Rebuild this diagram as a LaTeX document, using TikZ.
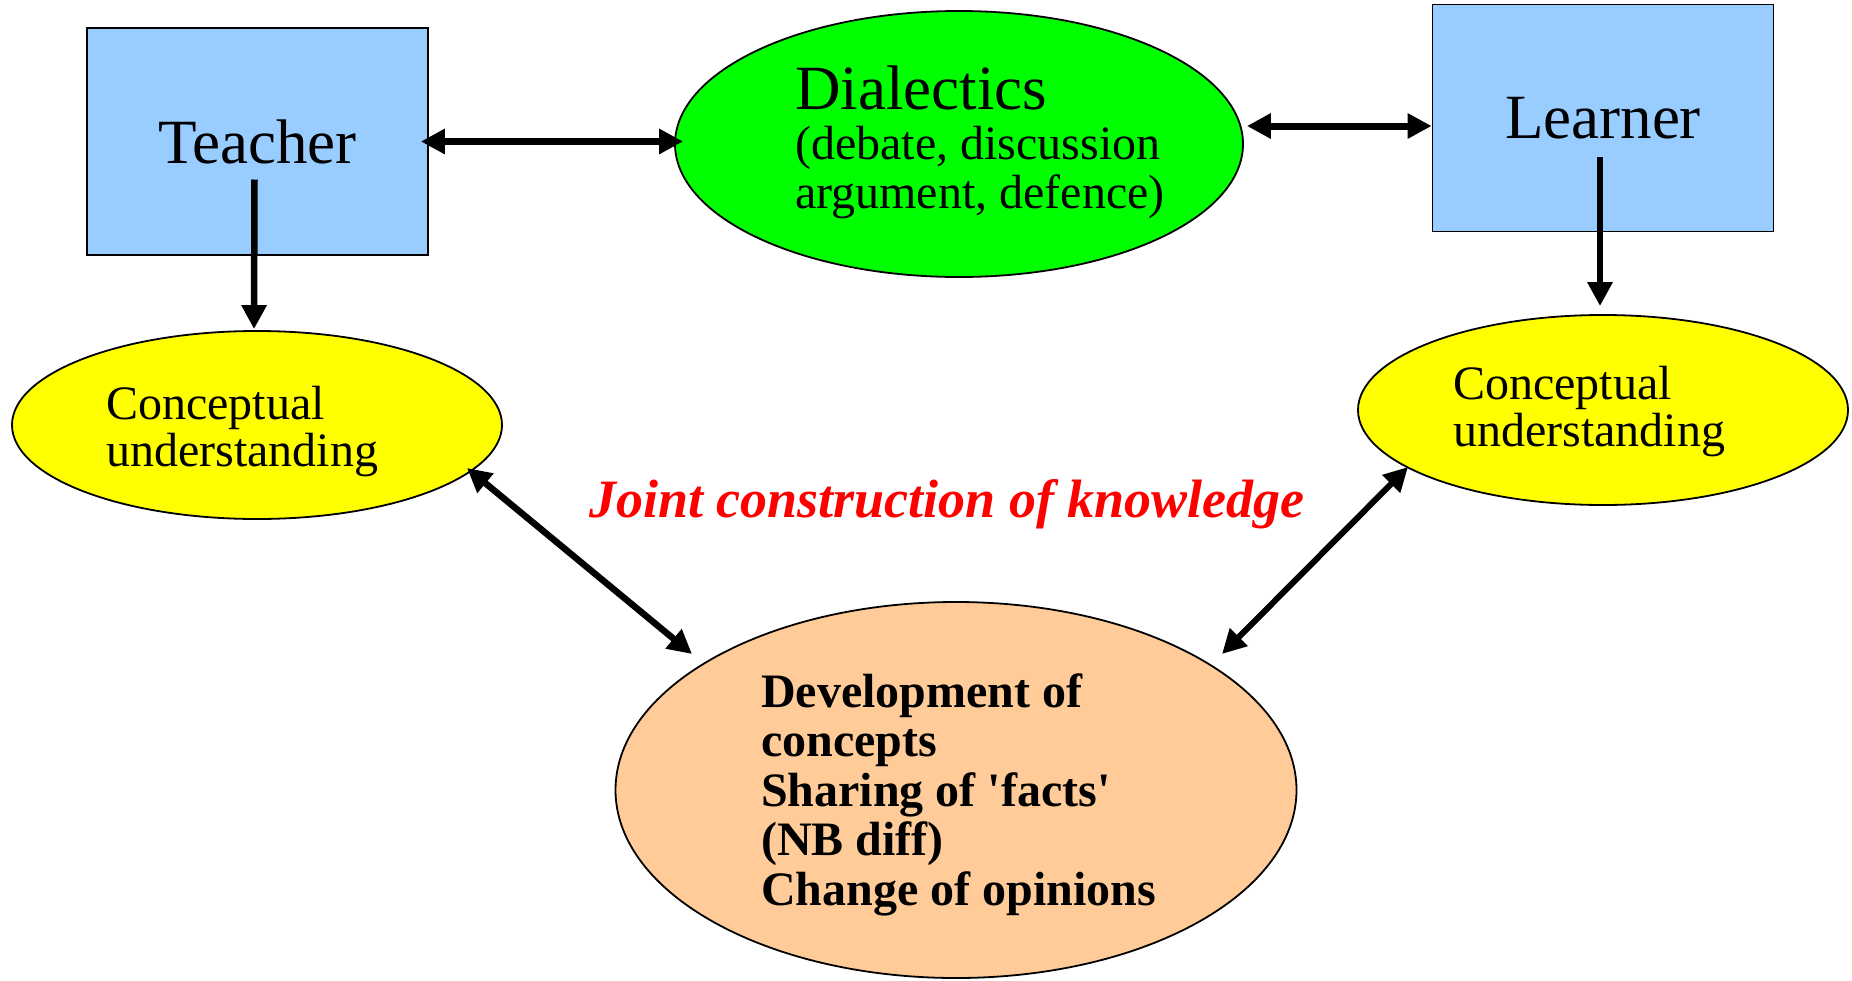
\documentclass[tikz,border=0pt]{standalone}
\usepackage{fontspec}
\setmainfont{Liberation Serif}
\usetikzlibrary{shapes.geometric,arrows.meta,calc}
\definecolor{boxblue}{HTML}{99CCFF}
\definecolor{dialgreen}{HTML}{00FF00}
\definecolor{cuyellow}{HTML}{FFFF00}
\definecolor{devorange}{HTML}{FFCC99}
\definecolor{jointred}{HTML}{FF0000}
\begin{document}
\begin{tikzpicture}[x=1pt,y=-1pt,
  box/.style={draw=black,line width=1.8pt,fill=boxblue,minimum width=341pt,minimum height=227pt,inner sep=0pt,font=\fontsize{63}{63}\selectfont},
  oval/.style={ellipse,draw=black,line width=1.8pt,inner sep=0pt},
  tip/.tip={Triangle[length=24pt,width=24pt]},
  conn/.style={line width=6.5pt,-tip},
  biconn/.style={line width=7pt,tip-tip},
  bigtxt/.style={anchor=base west,inner sep=0pt,font=\fontsize{63}{63}\selectfont},
  midtxt/.style={anchor=base west,inner sep=0pt,font=\fontsize{48}{48}\selectfont},
  boldtxt/.style={anchor=base west,inner sep=0pt,font=\fontsize{48}{48}\selectfont\bfseries},
  redtxt/.style={anchor=base west,inner sep=0pt,text=jointred,font=\fontsize{54}{54}\selectfont\bfseries\itshape},
]
\useasboundingbox[fill=white] (0,0) rectangle (1852,980);

% shapes
\node[box] (teacher) at (257.5,141.5) {Teacher};
\node[box] (learner) at (1603,118) {Learner};
\node[oval,fill=dialgreen,minimum width=568pt,minimum height=266pt] (dial) at (959,144) {};
\node[oval,fill=cuyellow,minimum width=490pt,minimum height=188pt] (cul) at (257,425) {};
\node[oval,fill=cuyellow,minimum width=490pt,minimum height=190pt] (cur) at (1603,410) {};
\node[oval,fill=devorange,minimum width=681pt,minimum height=376pt] (dev) at (956,790) {};

% texts
\node[bigtxt] (d1) at (795,109) {Dialectics};
\node[midtxt] (d2) at (795,159) {(debate, discussion};
\node[midtxt] (d3) at (795,208) {argument, defence)};
\node[midtxt] (cl1) at (106,419) {Conceptual};
\node[midtxt] (cl2) at (106,466) {understanding};
\node[midtxt] (cr1) at (1453,399) {Conceptual};
\node[midtxt] (cr2) at (1453,446) {understanding};
\node[boldtxt] (b1) at (761,707) {Development of};
\node[boldtxt] (b2) at (761,756) {concepts};
\node[boldtxt] (b3) at (761,806) {Sharing of \textquotesingle facts\textquotesingle};
\node[boldtxt] (b4) at (761,855) {(NB diff)};
\node[boldtxt] (b5) at (761,905) {Change of opinions};
\node[redtxt] (joint) at (589,517) {Joint construction of knowledge};

% connectors
\draw[biconn] ([xshift=-8pt]teacher.east) -- ([xshift=9pt]teacher.east -| dial.west);
\draw[biconn] ($(dial.east)+(3,-18)$) coordinate (dl) -- (dl -| learner.west);
\draw[conn] ($(teacher.center)+(-3,38)$) -- ($(cul.north)+(-3,-1)$);
\draw[conn] ($(learner.center)+(-3,39)$) -- ($(cur.north)+(-3,-8)$);
\draw[biconn,line width=6.5pt] ($(cul.center)+(210,43)$) -- ($(dev.center)+(-264,-136)$);
\draw[biconn,line width=6pt] ($(cur.center)+(-195,57)$) -- ($(dev.center)+(266,-136)$);
\end{tikzpicture}
\end{document}
